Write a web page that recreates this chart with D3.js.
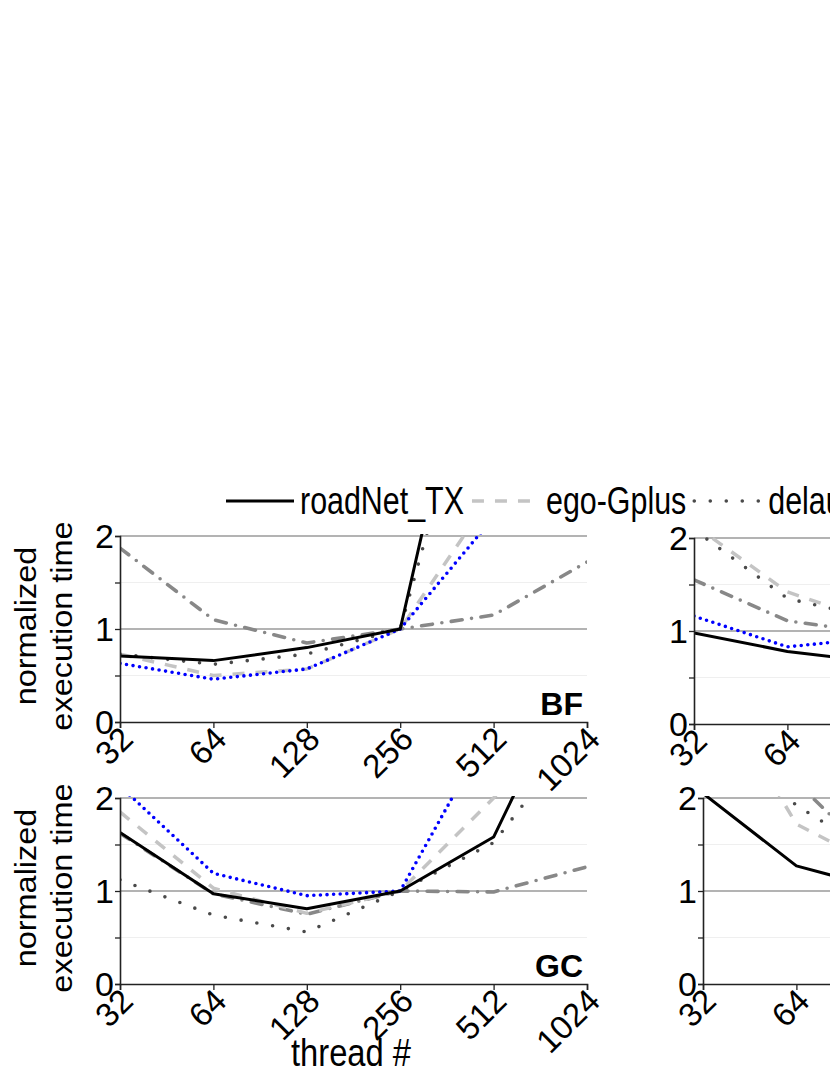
<!DOCTYPE html>
<html><head><meta charset="utf-8">
<script src="https://cdn.jsdelivr.net/npm/d3@7"></script>
<style>body{margin:0;background:#fff}svg{display:block}text{font-family:"Liberation Sans",Arial,sans-serif;fill:#000}</style>
</head><body><svg id="c" width="830" height="1075"></svg>
<script>
// ---- data ----
const threads = [32, 64, 128, 256, 512, 1024];
const tickLabels = ["32", "64", "128", "256", "512", "1024"];
const seriesNames = ["roadNet_TX", "ego-Gplus", "delaunay_n20", "series4", "series5"];
const panelNames = ["BF", "", "GC", ""];
// values per panel, per series (order as seriesNames)
const bfRoadNet  = [0.71, 0.66, 0.80, 1.00, 5.40, 10.0];
const bfEgo      = [0.73, 0.50, 0.57, 1.00, 2.47, 4.00];
const bfDelaunay = [0.73, 0.62, 0.73, 1.00, 4.60, 8.00];
const bfS4       = [1.87, 1.10, 0.85, 1.00, 1.15, 1.72];
const bfS5       = [0.63, 0.46, 0.57, 1.00, 2.20, 3.50];
const trRoadNet  = [0.98, 0.78, 0.66, 1.00, 1.30, 1.60];
const trEgo      = [2.14, 1.42, 1.08, 1.00, 1.20, 1.50];
const trDelaunay = [2.09, 1.35, 1.12, 1.00, 1.10, 1.40];
const trS4       = [1.55, 1.11, 0.97, 1.00, 1.10, 1.30];
const trS5       = [1.16, 0.83, 0.93, 1.00, 1.20, 1.50];
const gcRoadNet  = [1.63, 0.97, 0.81, 1.00, 1.58, 3.66];
const gcEgo      = [1.85, 1.03, 0.76, 1.00, 2.00, 3.20];
const gcDelaunay = [1.12, 0.74, 0.56, 1.00, 1.52, 2.81];
const gcS4       = [1.62, 0.97, 0.75, 1.00, 0.99, 1.26];
const gcS5       = [2.13, 1.19, 0.95, 1.00, 2.80, 4.50];
const brRoadNet  = [2.05, 1.27, 1.00, 1.00, 1.30, 1.60];
const brEgo      = [3.40, 1.72, 1.20, 1.00, 1.30, 1.60];
const brDelaunay = [2.90, 1.92, 1.30, 1.00, 1.20, 1.50];
const brS4       = [3.50, 2.17, 1.20, 1.00, 1.10, 1.40];
const brS5       = [4.00, 3.00, 2.60, 1.00, 1.50, 2.00];
const yTicks = [0, 1, 2];
const yMinor = [0.5, 1.5];

const panelData = [
  [bfRoadNet, bfEgo, bfDelaunay, bfS4, bfS5],
  [trRoadNet, trEgo, trDelaunay, trS4, trS5],
  [gcRoadNet, gcEgo, gcDelaunay, gcS4, gcS5],
  [brRoadNet, brEgo, brDelaunay, brS4, brS5]
];

// ---- styles ----
const styles = [
  {stroke:"#000", w:3, dash:null, cap:"butt"},
  {stroke:"#c4c4c4", w:3.5, dash:"12,11", cap:"butt"},
  {stroke:"#4a4a4a", w:3.6, dash:"0,16", cap:"round"},
  {stroke:"#888", w:3.6, dash:"11,9.5,0,9.5", cap:"round"},
  {stroke:"#0000ff", w:3.6, dash:"0,6.6", cap:"round"}
];
const drawOrder = [3, 1, 2, 4, 0];

const panels = [
  {x0:120, y2:536, y0:722, leftTitle:true},
  {x0:694, y2:538, y0:724, leftTitle:false},
  {x0:120, y2:798, y0:984, leftTitle:true},
  {x0:703, y2:798, y0:984, leftTitle:false}
];
const panelW = 467;

const svg = d3.select("#c");
const defs = svg.append("defs");

panels.forEach((p, pi) => {
  const x = d3.scaleLog().base(2).domain([32, 1024]).range([p.x0, p.x0 + panelW]);
  const y = d3.scaleLinear().domain([0, 2]).range([p.y0, p.y2]);
  const g = svg.append("g");

  g.selectAll(".mg").data(yMinor).enter().append("line")
    .attr("x1", p.x0).attr("x2", p.x0 + panelW)
    .attr("y1", d => y(d)).attr("y2", d => y(d))
    .attr("stroke", "#efefef").attr("stroke-width", 1);
  g.selectAll(".Mg").data([1, 2]).enter().append("line")
    .attr("x1", p.x0).attr("x2", p.x0 + panelW)
    .attr("y1", d => y(d)).attr("y2", d => y(d))
    .attr("stroke", "#9a9a9a").attr("stroke-width", 1.3);

  const cid = "clip" + pi;
  defs.append("clipPath").attr("id", cid).append("rect")
    .attr("x", p.x0).attr("y", p.y2 - 2).attr("width", panelW).attr("height", p.y0 - p.y2 + 2);

  const line = d3.line().x((d, i) => x(threads[i])).y(d => y(d));
  const lg = g.append("g").attr("clip-path", `url(#${cid})`);
  drawOrder.forEach(si => {
    const s = styles[si];
    lg.append("path").datum(panelData[pi][si])
      .attr("d", line).attr("fill", "none")
      .attr("stroke", s.stroke).attr("stroke-width", s.w)
      .attr("stroke-dasharray", s.dash).attr("stroke-linecap", s.cap)
      .attr("stroke-linejoin", "round");
  });

  const ya = d3.axisLeft(y).tickValues([0, 0.5, 1, 1.5, 2]).tickSize(5).tickFormat("");
  const yg = g.append("g").attr("transform", `translate(${p.x0},0)`).call(ya);
  yg.select(".domain").attr("stroke", "#222").attr("stroke-width", 1.6);
  yg.selectAll(".tick line").attr("stroke", "#222").attr("stroke-width", 1.3);
  g.selectAll(".ylab").data(yTicks).enter().append("text")
    .attr("x", p.x0 - 6).attr("y", d => y(d) + 12)
    .attr("text-anchor", "end").attr("font-size", 34).text(d => d);

  const xa = d3.axisBottom(x).tickValues(threads).tickSize(6).tickFormat("");
  const xg = g.append("g").attr("transform", `translate(0,${p.y0})`).call(xa);
  xg.select(".domain").attr("stroke", "#222").attr("stroke-width", 1.6);
  xg.selectAll(".tick line").attr("stroke", "#222").attr("stroke-width", 1.3);
  g.selectAll(".xlab").data(threads).enter().append("text")
    .attr("transform", (d) => `translate(${x(d) + 15},${p.y0 + 19}) rotate(-45)`)
    .attr("text-anchor", "end").attr("font-size", 33)
    .text((d, i) => tickLabels[i]);

  g.append("text").attr("x", p.x0 + panelW - 4).attr("y", p.y0 - 7)
    .attr("text-anchor", "end").attr("font-size", 32).attr("font-weight", "bold")
    .text(panelNames[pi]);

  if (p.leftTitle) {
    const cy = (p.y0 + p.y2) / 2 - 3;
    g.append("text").attr("transform", `translate(36,${cy}) rotate(-90) scale(1.12,1)`)
      .attr("text-anchor", "middle").attr("font-size", 29).text("normalized");
    g.append("text").attr("transform", `translate(72,${cy}) rotate(-90) scale(1.12,1)`)
      .attr("text-anchor", "middle").attr("font-size", 29).text("execution time");
  }
});

svg.append("text").attr("transform", "translate(351,1066) scale(0.84,1)")
  .attr("text-anchor", "middle").attr("font-size", 39).text("thread #");

// legend
const legY = 501, legTextScale = 0.79, legFont = 38.5, lineLen = 68;
let lx = 226;
seriesNames.forEach((name, i) => {
  const s = styles[i];
  svg.append("line").attr("x1", lx).attr("x2", lx + lineLen).attr("y1", legY).attr("y2", legY)
    .attr("stroke", s.stroke).attr("stroke-width", s.w)
    .attr("stroke-dasharray", s.dash).attr("stroke-linecap", s.cap);
  const t = svg.append("text").attr("transform", `translate(${lx + lineLen + 6},${legY + 13}) scale(${legTextScale},1)`)
    .attr("font-size", legFont).text(name);
  const w = t.node().getComputedTextLength() * legTextScale;
  lx = lx + lineLen + 6 + w + 8;
});
</script></body></html>
